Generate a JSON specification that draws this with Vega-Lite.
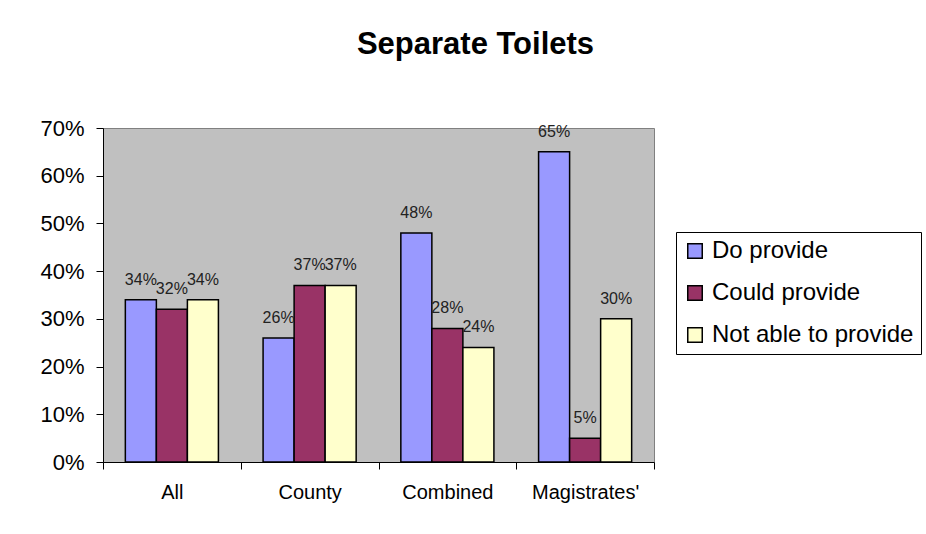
{
  "$schema": "https://vega.github.io/schema/vega-lite/v6.json",
  "width": 551,
  "height": 334,
  "autosize": "none",
  "padding": {"left": 103, "top": 128, "right": 272, "bottom": 72},
  "background": "white",
  "title": {
    "text": "Separate Toilets",
    "font": "Liberation Sans",
    "fontSize": 31,
    "fontWeight": "bold",
    "color": "black",
    "anchor": "middle",
    "frame": "group",
    "dx": 97,
    "offset": 56
  },
  "data": {
    "values": [
      {"group": "All", "response": "Do provide", "value": 0.34},
      {"group": "All", "response": "Could provide", "value": 0.32},
      {"group": "All", "response": "Not able to provide", "value": 0.34},
      {"group": "County", "response": "Do provide", "value": 0.26},
      {"group": "County", "response": "Could provide", "value": 0.37},
      {"group": "County", "response": "Not able to provide", "value": 0.37},
      {"group": "Combined", "response": "Do provide", "value": 0.48},
      {"group": "Combined", "response": "Could provide", "value": 0.28},
      {"group": "Combined", "response": "Not able to provide", "value": 0.24},
      {"group": "Magistrates'", "response": "Do provide", "value": 0.65},
      {"group": "Magistrates'", "response": "Could provide", "value": 0.05},
      {"group": "Magistrates'", "response": "Not able to provide", "value": 0.30}
    ]
  },
  "encoding": {
    "x": {
      "field": "group",
      "type": "nominal",
      "sort": ["All", "County", "Combined", "Magistrates'"],
      "scale": {"paddingInner": 0, "paddingOuter": 0},
      "axis": {
        "title": null,
        "labelAngle": 0,
        "labelFont": "Liberation Sans",
        "labelFontSize": 20,
        "labelColor": "black",
        "labelPadding": 13,
        "tickBand": "extent",
        "tickColor": "black",
        "tickSize": 7,
        "domainColor": "black",
        "domainWidth": 1
      }
    },
    "xOffset": {
      "field": "response",
      "type": "nominal",
      "sort": ["Do provide", "Could provide", "Not able to provide"],
      "scale": {"paddingInner": 0, "paddingOuter": 0.72}
    },
    "y": {
      "field": "value",
      "type": "quantitative",
      "scale": {"domain": [0, 0.7]},
      "axis": {
        "title": null,
        "format": ".0%",
        "values": [0, 0.1, 0.2, 0.3, 0.4, 0.5, 0.6, 0.7],
        "grid": false,
        "labelFont": "Liberation Sans",
        "labelFontSize": 22,
        "labelColor": "black",
        "labelPadding": 12,
        "tickColor": "black",
        "tickSize": 7,
        "domainColor": "black",
        "domainWidth": 1
      }
    }
  },
  "layer": [
    {
      "mark": {"type": "bar", "stroke": "black", "strokeWidth": 1.5},
      "encoding": {
        "color": {
          "field": "response",
          "type": "nominal",
          "sort": ["Do provide", "Could provide", "Not able to provide"],
          "scale": {
            "domain": ["Do provide", "Could provide", "Not able to provide"],
            "range": ["#9999FF", "#993366", "#FFFFCC"]
          },
          "legend": {
            "title": null,
            "orient": "none",
            "legendX": 573,
            "legendY": 104,
            "symbolType": "square",
            "symbolSize": 210,
            "symbolStrokeColor": "black",
            "symbolStrokeWidth": 1.5,
            "symbolOpacity": 1,
            "labelFont": "Liberation Sans",
            "labelFontSize": 24,
            "labelColor": "black",
            "labelOffset": 5,
            "rowPadding": 18,
            "padding": 7,
            "fillColor": "white",
            "strokeColor": "black",
            "labelLimit": 400
          }
        }
      }
    },
    {
      "mark": {
        "type": "text",
        "baseline": "bottom",
        "dy": -12,
        "font": "Liberation Sans",
        "fontSize": 16,
        "color": "#222222"
      },
      "encoding": {
        "text": {"field": "value", "type": "quantitative", "format": ".0%"}
      }
    }
  ],
  "config": {
    "view": {"fill": "#C0C0C0", "stroke": "#808080", "strokeWidth": 1}
  }
}
